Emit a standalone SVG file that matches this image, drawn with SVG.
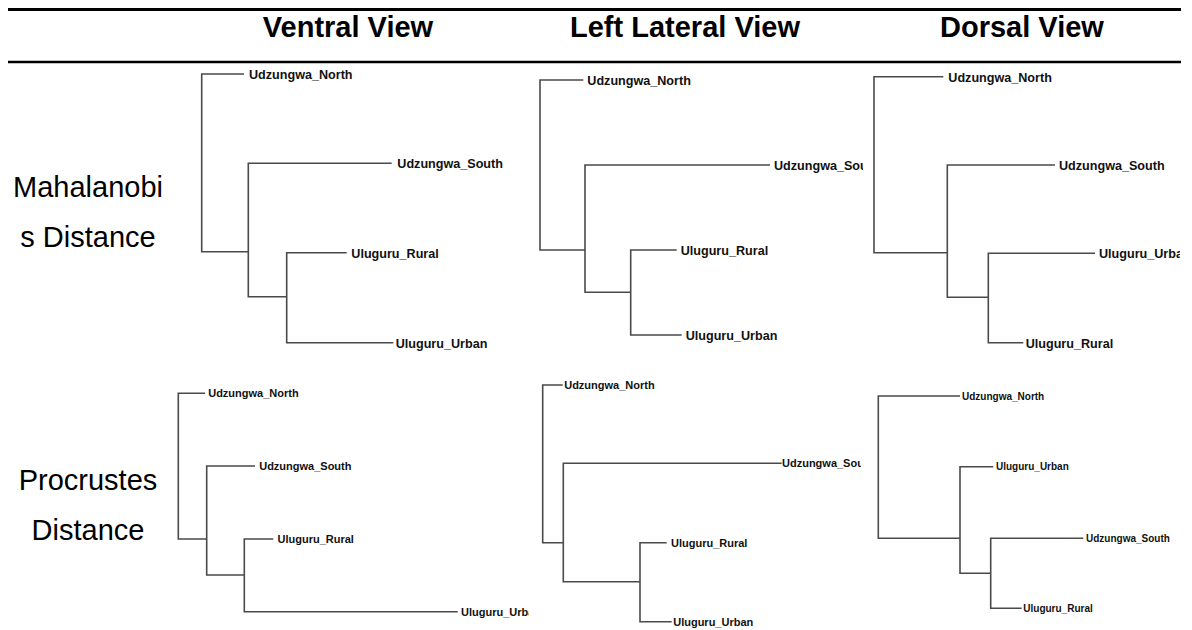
<svg xmlns="http://www.w3.org/2000/svg" width="1192" height="630" viewBox="0 0 1192 630">
<defs>
<style>
.rule{stroke:#000;fill:none}
.hdr{font-family:"Liberation Sans",Arial,sans-serif;font-weight:bold;font-size:29px;fill:#000;text-anchor:middle}
.row{font-family:"Liberation Sans",Arial,sans-serif;font-size:29px;fill:#000;text-anchor:middle}
.edge{stroke:#4a4a4a;stroke-width:1.6;fill:none}
.lbl{font-family:"Liberation Sans",Arial,sans-serif;font-weight:bold;fill:#111}
.l1{font-size:12.6px}
.l2{font-size:11px}
.l3{font-size:10px}
</style>
<clipPath id="c2"><rect x="520" y="60" width="343" height="300"/></clipPath>
<clipPath id="c3"><rect x="860" y="60" width="320" height="300"/></clipPath>
<clipPath id="c4"><rect x="160" y="370" width="369" height="260"/></clipPath>
<clipPath id="c5"><rect x="520" y="370" width="341" height="260"/></clipPath>
</defs>
<rect width="1192" height="630" fill="#fff"/>
<g id="table-rules">
<line class="rule" x1="8" y1="9.5" x2="1181" y2="9.5" stroke-width="3"/>
<line class="rule" x1="8" y1="62" x2="1181" y2="62" stroke-width="2.5"/>
</g>
<g id="headers">
<text class="hdr" x="348" y="37">Ventral View</text>
<text class="hdr" x="685" y="37">Left Lateral View</text>
<text class="hdr" x="1022" y="37">Dorsal View</text>
</g>
<g id="row-labels">
<text class="row" x="88" y="197">Mahalanobi</text>
<text class="row" x="88" y="247">s Distance</text>
<text class="row" x="88" y="490">Procrustes</text>
<text class="row" x="88" y="540">Distance</text>
</g>
<g id="connectors">
<g id="p1-edges">
<path class="edge" d="M244 74 H201.7 V251.7 H248.3"/>
<path class="edge" d="M391.7 163.3 H248.3 V296.7 H286.7"/>
<path class="edge" d="M346.7 252.7 H286.7 V342.7 H393.3"/>
</g>
<g id="p2-edges">
<path class="edge" d="M583.3 80 H540 V250 H585"/>
<path class="edge" d="M770 165 H585 V292.3 H630.7"/>
<path class="edge" d="M676.7 250 H630.7 V335 H681.7"/>
</g>
<g id="p3-edges">
<path class="edge" d="M943.3 76.7 H874 V252.7 H947.3"/>
<path class="edge" d="M1055 165 H947.3 V297.3 H988.3"/>
<path class="edge" d="M1095 253.3 H988.3 V342.7 H1023.3"/>
</g>
<g id="p4-edges">
<path class="edge" d="M205 393.3 H178.3 V539 H206.7"/>
<path class="edge" d="M255 466 H206.7 V575 H244.3"/>
<path class="edge" d="M273.3 539 H244.3 V611.7 H457.7"/>
</g>
<g id="p5-edges">
<path class="edge" d="M562.7 385 H542.7 V542.7 H563.3"/>
<path class="edge" d="M781.7 463.3 H563.3 V581.7 H640"/>
<path class="edge" d="M666.7 542.7 H640 V621.7 H671.7"/>
</g>
<g id="p6-edges">
<path class="edge" d="M960 396 H878.3 V538.3 H960"/>
<path class="edge" d="M993.3 466.7 H960 V573.3 H990.7"/>
<path class="edge" d="M1083.3 538.3 H990.7 V608.3 H1021.7"/>
</g>
</g>
<g id="p1-leaves">
<g id="p1-udzungwa-north"><text class="lbl l1" x="249" y="79">Udzungwa_North</text></g>
<g id="p1-udzungwa-south"><text class="lbl l1" x="397.3" y="168.3">Udzungwa_South</text></g>
<g id="p1-uluguru-rural"><text class="lbl l1" x="351.3" y="257.7">Uluguru_Rural</text></g>
<g id="p1-uluguru-urban"><text class="lbl l1" x="395.7" y="347.7">Uluguru_Urban</text></g>
</g>
<g id="p2-leaves" clip-path="url(#c2)">
<g id="p2-udzungwa-north"><text class="lbl l1" x="587.3" y="85">Udzungwa_North</text></g>
<g id="p2-udzungwa-south"><text class="lbl l1" x="774" y="170">Udzungwa_South</text></g>
<g id="p2-uluguru-rural"><text class="lbl l1" x="680.7" y="255">Uluguru_Rural</text></g>
<g id="p2-uluguru-urban"><text class="lbl l1" x="685.7" y="340">Uluguru_Urban</text></g>
</g>
<g id="p3-leaves" clip-path="url(#c3)">
<g id="p3-udzungwa-north"><text class="lbl l1" x="948.3" y="81.7">Udzungwa_North</text></g>
<g id="p3-udzungwa-south"><text class="lbl l1" x="1059" y="170">Udzungwa_South</text></g>
<g id="p3-uluguru-urban"><text class="lbl l1" x="1099" y="258.3">Uluguru_Urban</text></g>
<g id="p3-uluguru-rural"><text class="lbl l1" x="1025.7" y="347.7">Uluguru_Rural</text></g>
</g>
<g id="p4-leaves" clip-path="url(#c4)">
<g id="p4-udzungwa-north"><text class="lbl l2" x="208.2" y="397.3">Udzungwa_North</text></g>
<g id="p4-udzungwa-south"><text class="lbl l2" x="259.2" y="470">Udzungwa_South</text></g>
<g id="p4-uluguru-rural"><text class="lbl l2" x="277.5" y="543">Uluguru_Rural</text></g>
<g id="p4-uluguru-urban"><text class="lbl l2" x="461" y="615.7">Uluguru_Urban</text></g>
</g>
<g id="p5-leaves" clip-path="url(#c5)">
<g id="p5-udzungwa-north"><text class="lbl l2" x="564.2" y="389">Udzungwa_North</text></g>
<g id="p5-udzungwa-south"><text class="lbl l2" x="782" y="467.3">Udzungwa_South</text></g>
<g id="p5-uluguru-rural"><text class="lbl l2" x="671" y="546.7">Uluguru_Rural</text></g>
<g id="p5-uluguru-urban"><text class="lbl l2" x="673.2" y="625.7">Uluguru_Urban</text></g>
</g>
<g id="p6-leaves">
<g id="p6-udzungwa-north"><text class="lbl l3" x="962" y="399.5">Udzungwa_North</text></g>
<g id="p6-uluguru-urban"><text class="lbl l3" x="996" y="470.2">Uluguru_Urban</text></g>
<g id="p6-udzungwa-south"><text class="lbl l3" x="1086" y="541.8">Udzungwa_South</text></g>
<g id="p6-uluguru-rural"><text class="lbl l3" x="1023.3" y="611.8">Uluguru_Rural</text></g>
</g>
</svg>
